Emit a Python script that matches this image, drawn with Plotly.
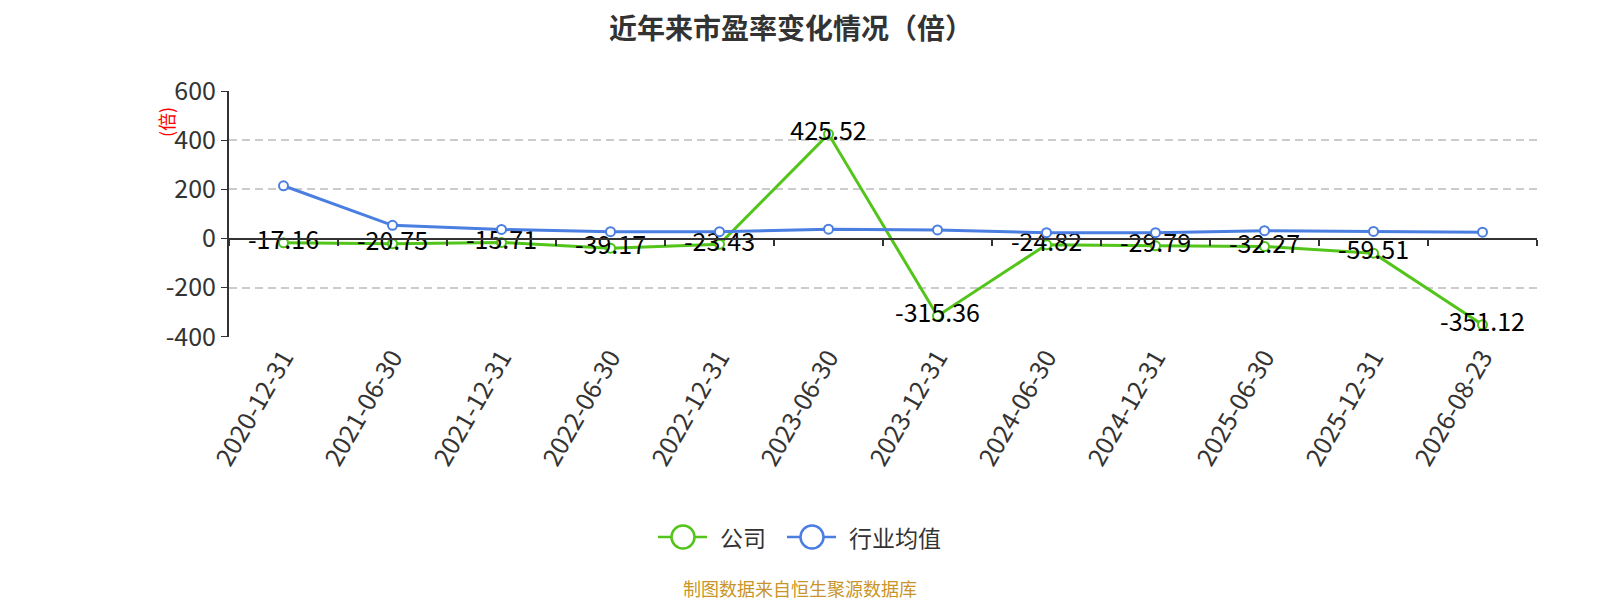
import plotly.graph_objects as go

# report dates on the category axis
dates = ['2020-12-31', '2021-06-30', '2021-12-31', '2022-06-30', '2022-12-31', '2023-06-30',
         '2023-12-31', '2024-06-30', '2024-12-31', '2025-06-30', '2025-12-31', '2026-08-23']

# P/E of the company (labels shown on the chart)
company_pe = [-17.16, -20.75, -15.71, -39.17, -23.43, 425.52,
              -315.36, -24.82, -29.79, -32.27, -59.51, -351.12]

# industry average P/E
industry_pe = [215, 54, 37, 28, 28, 38, 35, 24, 24, 32, 29, 26]

y_ticks = [-400, -200, 0, 200, 400, 600]
y_ticktext = ["-400", "-200", "0", "200", "400", "600"]

series_names = ["公司", "行业均值"]

FONT = "Noto Sans CJK SC"
GREEN = "#52c41a"
BLUE = "#4a7ee0"
Y_MIN, Y_MAX = -401, 601

# the html page puts the figure 8px in from the top-left corner
OFF = 8
W, H = 1600, 600
L, T, R, B = 229 - OFF, 91 - OFF, 1537 - OFF, 337 - OFF
PW, PH = R - L, B - T


def px(x):
    return (x - OFF - L) / PW


def py(y):
    return (B - (y - OFF)) / PH


fig = go.Figure()

fig.add_trace(go.Scatter(
    x=dates, y=company_pe, name=series_names[0], showlegend=False,
    mode="lines+markers+text",
    line=dict(color=GREEN, width=3),
    marker=dict(size=9, color="white", line=dict(color=GREEN, width=2)),
    text=[f"{v:.2f}" for v in company_pe],
    textposition="middle center",
    textfont=dict(size=25, color="#000", family=FONT),
))
fig.add_trace(go.Scatter(
    x=dates, y=industry_pe, name=series_names[1], showlegend=False,
    mode="lines+markers",
    line=dict(color=BLUE, width=3),
    marker=dict(size=9, color="white", line=dict(color=BLUE, width=2)),
))
# invisible helper so the zero-line axis gets drawn
fig.add_trace(go.Scatter(
    x=[0, len(dates)], y=[0, 0], xaxis="x2", mode="lines",
    line=dict(width=0), opacity=0, showlegend=False, hoverinfo="skip",
))

# legend drawn by hand: line + big hollow circle + label
shapes = []
annotations = []
legend_items = [(series_names[0], GREEN, 658, 718), (series_names[1], BLUE, 787, 847)]
LEG_Y = 537
for name, color, x0, tx in legend_items:
    shapes.append(dict(type="line", xref="paper", yref="paper",
                       x0=px(x0), x1=px(x0 + 49), y0=py(LEG_Y), y1=py(LEG_Y),
                       line=dict(color=color, width=2.5)))
    shapes.append(dict(type="circle", xref="paper", yref="paper",
                       xsizemode="pixel", ysizemode="pixel",
                       xanchor=px(x0 + 25), yanchor=py(LEG_Y),
                       x0=-11.5, x1=11.5, y0=-11.5, y1=11.5,
                       fillcolor="white", line=dict(color=color, width=2.5)))
    annotations.append(dict(text=name, xref="paper", yref="paper",
                            x=px(tx), y=py(LEG_Y), xanchor="left", yanchor="middle",
                            showarrow=False, font=dict(size=23, color="#333", family=FONT)))

annotations += [
    dict(text="(倍)", xref="paper", yref="paper", x=px(166), y=py(122),
         xanchor="center", yanchor="middle", showarrow=False, textangle=-90,
         font=dict(size=18, color="red", family=FONT)),
    dict(text="制图数据来自恒生聚源数据库", xref="paper", yref="paper",
         x=px(800), y=py(588), xanchor="center", yanchor="middle", showarrow=False,
         font=dict(size=18, color="#c9952a", family=FONT)),
]

fig.update_layout(
    width=W, height=H,
    margin=dict(l=L, r=W - R, t=T, b=H - B),
    plot_bgcolor="white", paper_bgcolor="white",
    font=dict(family=FONT, color="#333"),
    title=dict(text="<b>近年来市盈率变化情况（倍）</b>", x=(791 - OFF) / W, xanchor="center",
               y=1 - (29 - OFF) / H, yref="container", yanchor="middle",
               font=dict(size=28, color="#333", family=FONT)),
    showlegend=False,
    xaxis=dict(type="category", showline=False, showgrid=False, ticks="",
               tickangle=-60, tickfont=dict(size=25, color="#333"),
               range=[-0.5, len(dates) - 0.5]),
    xaxis2=dict(overlaying="x", anchor="free", position=-Y_MIN / (Y_MAX - Y_MIN),
                range=[0, len(dates)],
                showline=True, linecolor="#333", linewidth=2, showgrid=False,
                zeroline=False, ticks="outside", ticklen=6, tickcolor="#333",
                tickwidth=1.5, tick0=0, dtick=1, showticklabels=False),
    yaxis=dict(range=[Y_MIN, Y_MAX], tickvals=y_ticks, ticktext=y_ticktext,
               showline=True, linecolor="#333",
               linewidth=2, ticks="outside", ticklen=6, tickcolor="#333",
               showgrid=True, gridcolor="#cccccc", griddash="8px,5px", gridwidth=1.5,
               zeroline=False, tickfont=dict(size=25, color="#333")),
    shapes=shapes,
    annotations=annotations,
)

fig.write_html("out.html")
